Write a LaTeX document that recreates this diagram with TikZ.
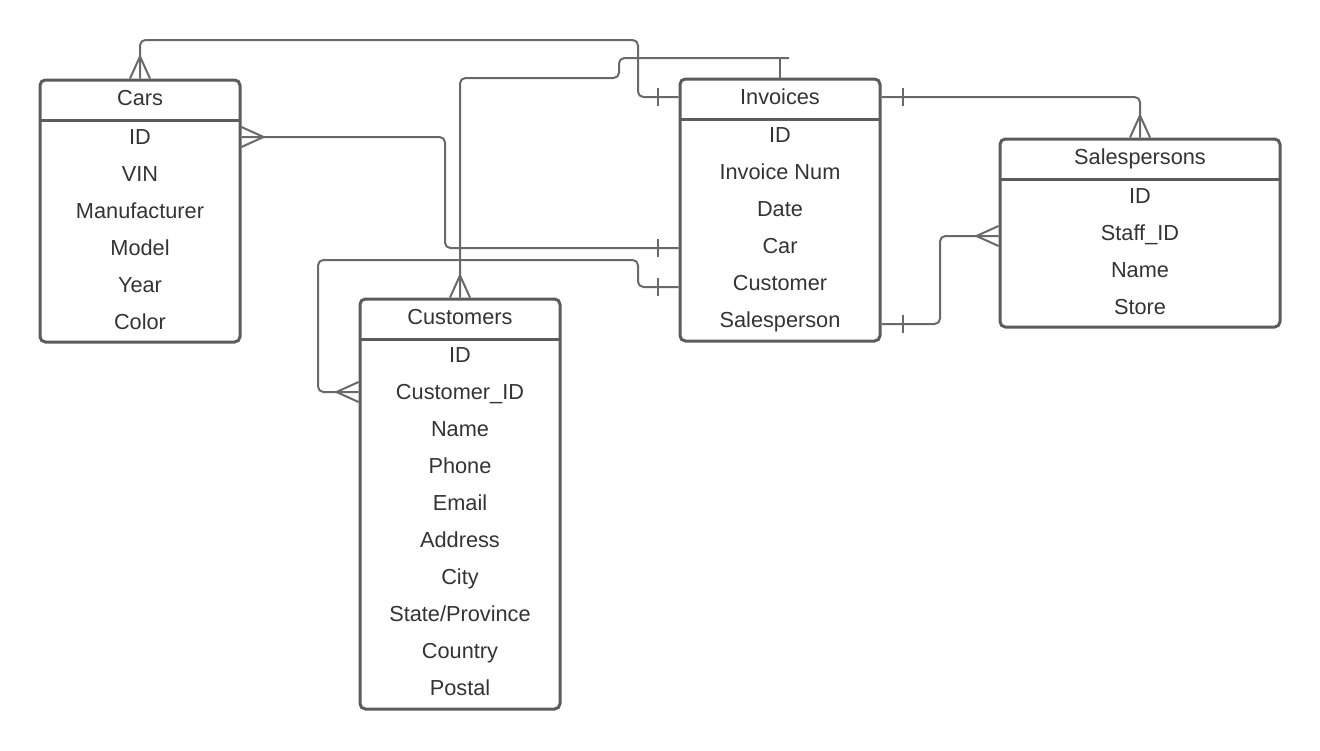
\documentclass[tikz,border=0pt]{standalone}
\usepackage{fontspec}
\setmainfont{Liberation Sans}
\usetikzlibrary{positioning}
\definecolor{boxgray}{RGB}{92,92,92}
\definecolor{linegray}{RGB}{105,105,105}
\definecolor{textgray}{RGB}{51,51,51}
\newcommand{\erfont}{\fontsize{16.3}{19}\selectfont}

\tikzset{
    tbl/.style={draw=boxgray, line width=2.25pt, rounded corners=4pt, inner sep=0pt},
    sepline/.style={draw=boxgray, line width=2.25pt},
    title/.style={font=\erfont, text=textgray, inner sep=1pt, text height=11.7pt, text depth=0pt},
    field/.style={font=\erfont, text=textgray, inner sep=1pt, text height=11.7pt, text depth=0pt},
    conn/.style={draw=linegray, line width=1.5pt, rounded corners=4pt},
    crowfoot/.pic={\draw[linegray, line width=1.5pt] (0,7.5pt) -- (-16.5pt,0) -- (0,-7.5pt);},
    onebar/.pic={\draw[linegray, line width=1.5pt] (-15.75pt,-7pt) -- (-15.75pt,7pt);}
}

\begin{document}
\begin{tikzpicture}[x=0.75pt, y=-0.75pt]
    \useasboundingbox (0,0) rectangle (1320,750);

    % Cars
    \node[tbl, minimum width=150pt, minimum height=196.5pt] (cars) at (140,211) {};
    \draw[sepline] (40,120) -- (240,120);
    \node[title] (carsT) at (140,98) {Cars};
    \foreach \t [count=\i] in {ID,VIN,Manufacturer,Model,Year,Color}
        \node[field] (cars\i) at (140,{99.5+37*\i}) {\t};

    % Invoices
    \node[tbl, minimum width=150pt, minimum height=196.5pt] (inv) at (780,210) {};
    \draw[sepline] (680,119) -- (880,119);
    \node[title] (invT) at (780,97) {Invoices};
    \foreach \t [count=\i] in {ID,Invoice Num,Date,Car,Customer,Salesperson}
        \node[field] (inv\i) at (780,{97.5+37*\i}) {\t};

    % Salespersons
    \node[tbl, minimum width=210pt, minimum height=141pt] (sales) at (1140,233) {};
    \draw[sepline] (1000,179) -- (1280,179);
    \node[title] (salesT) at (1140,157) {Salespersons};
    \foreach \t [count=\i] in {ID,Staff\_ID,Name,Store}
        \node[field] (sales\i) at (1140,{158.5+37*\i}) {\t};

    % Customers
    \node[tbl, minimum width=150pt, minimum height=307.5pt] (cust) at (460,504) {};
    \draw[sepline] (360,339) -- (560,339);
    \node[title] (custT) at (460,317) {Customers};
    \foreach \t [count=\i] in {ID,Customer\_ID,Name,Phone,Email,Address,City,State/Province,Country,Postal}
        \node[field] (cust\i) at (460,{317.5+37*\i}) {\t};

    % relations
    \coordinate (carsEnd) at (inv.west |- invT);
    \draw[conn] (cars.north) -- (140,40) -- (638,40) -- (638,97) -- (carsEnd);
    \pic[rotate=-90] at (cars.north) {crowfoot};
    \pic at (carsEnd) {onebar};

    \coordinate (carRow) at (cars.east |- 0,137);
    \coordinate (invCar) at (inv.west |- 0,248);
    \draw[conn] (carRow) -- (445,137) -- (445,248) -- (invCar);
    \pic[rotate=180] at (carRow) {crowfoot};
    \pic at (invCar) {onebar};

    \coordinate (custTee) at (780,58);
    \draw[conn] (cust.north) -- (460,78) -- (619,78) -- (619,58) -- (789,58);
    \draw[conn] (custTee) -- (inv.north);
    \pic[rotate=-90] at (cust.north) {crowfoot};

    \coordinate (custRow) at (cust.west |- 0,392);
    \coordinate (invCust) at (inv.west |- 0,287);
    \draw[conn] (custRow) -- (318,392) -- (318,260) -- (638,260) -- (638,287) -- (invCust);
    \pic at (custRow) {crowfoot};
    \pic at (invCust) {onebar};

    \coordinate (invRight) at (inv.east |- invT);
    \draw[conn] (invRight) -- (1140,97) -- (sales.north);
    \pic[rotate=180] at (invRight) {onebar};
    \pic[rotate=-90] at (sales.north) {crowfoot};

    \coordinate (invSales) at (inv.east |- 0,324);
    \coordinate (salesRow) at (sales.west |- 0,236);
    \draw[conn] (invSales) -- (940,324) -- (940,236) -- (salesRow);
    \pic[rotate=180] at (invSales) {onebar};
    \pic at (salesRow) {crowfoot};
\end{tikzpicture}
\end{document}
